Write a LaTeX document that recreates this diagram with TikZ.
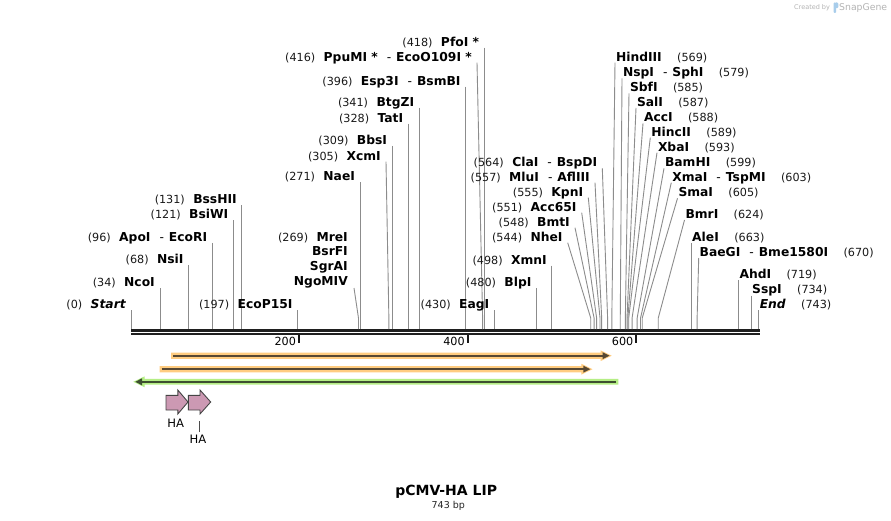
\documentclass[tikz,border=0pt]{standalone}
\usepackage{fontspec}
\setmainfont{DejaVu Sans}
\usetikzlibrary{calc}
\definecolor{cutgray}{HTML}{8C8C8C}
\definecolor{orH}{HTML}{FFCC80}
\definecolor{grH}{HTML}{B5EE85}
\definecolor{orD}{HTML}{574833}
\definecolor{grD}{HTML}{3D4F30}
\definecolor{haP}{HTML}{CC99B3}
\definecolor{haE}{HTML}{454545}
\definecolor{logoB}{HTML}{A8CDEB}
\definecolor{logoT}{HTML}{B4B4B4}
\newcommand\bpx[1]{(131.3+0.8445*(#1))}
\newcommand\sepx{\hspace{9pt}{\mdseries-}\hspace{5pt}}
% left-hand label: id, y, top x, bp, name
\newcommand\enzL[5]{%
  \node[ename, anchor=base east] (#1) at ({#3-5},{#2+4.5}) {#5};
  \node[enumb, anchor=base east] (#1n) at ([xshift=-8pt]#1.base west) {(#4)};
  \coordinate (#1t) at ({#3},{#2+6});
  \coordinate (#1k) at ({\bpx{#4}},318);
  \coordinate (#1b) at ({\bpx{#4}},329);
  \draw[cut] (#1t) -- (#1k) -- (#1b);}
% right-hand label: id, y, top x, bp, name
\newcommand\enzR[5]{%
  \node[ename, anchor=base west] (#1) at ({#3+0.8},{#2+4.5}) {#5};
  \node[enumb, anchor=base west] (#1n) at ([xshift=15pt]#1.base east) {(#4)};
  \coordinate (#1t) at ({#3},{#2+6});
  \coordinate (#1k) at ({\bpx{#4}},318);
  \coordinate (#1b) at ({\bpx{#4}},329);
  \draw[cut] (#1t) -- (#1k) -- (#1b);}
\begin{document}
\begin{tikzpicture}[x=1pt,y=-1pt,
  ename/.style={font=\fontsize{12.3}{14}\selectfont\bfseries, inner sep=0pt, text=black},
  enumb/.style={font=\fontsize{11.2}{13}\selectfont, inner sep=0pt, text=black!90},
  cut/.style={draw=cutgray, line width=0.9pt},
  seq/.style={draw=black!88, line width=2.7pt},
  tickm/.style={draw=black!90, line width=2pt},
  ticklab/.style={font=\fontsize{11.2}{13}\selectfont, inner sep=0pt, anchor=base east},
  hafeat/.style={fill=haP, draw=haE, line width=0.9pt, line join=miter},
  halab/.style={font=\fontsize{11.6}{13}\selectfont, inner sep=0pt, anchor=base}]
\fill[white] (0,0) rectangle (891,521);
\useasboundingbox (0,0) rectangle (891,521);

% sequence line
\coordinate (s0a) at (131,330.35);
\coordinate (s1a) at (760,330.35);
\coordinate (s0b) at (131,334);
\coordinate (s1b) at (760,334);
\draw[seq] (s0a) -- (s1a);
\draw[seq] (s0b) -- (s1b);

% ticks
\foreach \n/\x in {200/299, 400/467.7, 600/636.3}{
  \coordinate (tk\n a) at (\x,335);
  \coordinate (tk\n b) at (\x,342.7);
  \draw[tickm] (tk\n a) -- (tk\n b);
  \node[ticklab] (tl\n) at (\x-2.8,345.8) {\n};
}

% enzymes, labels on the left
\enzL{start}{304}{\bpx{0}}{0}{\textit{Start}}
\enzL{nco}{282}{\bpx{34}}{34}{NcoI}
\enzL{nsi}{259.5}{\bpx{68}}{68}{NsiI}
\enzL{apo}{237}{\bpx{96}}{96}{ApoI\sepx EcoRI}
\enzL{bsiw}{214.5}{\bpx{121}}{121}{BsiWI}
\enzL{bssh}{199.5}{\bpx{131}}{131}{BssHII}
\enzL{ecop}{304}{\bpx{197}}{197}{EcoP15I}
\enzL{nae}{176.5}{\bpx{271}}{271}{NaeI}
\enzL{xcm}{155.7}{386}{305}{XcmI}
\enzL{bbs}{140}{\bpx{309}}{309}{BbsI}
\enzL{tat}{117.7}{\bpx{328}}{328}{TatI}
\enzL{btgz}{101.7}{\bpx{341}}{341}{BtgZI}
\enzL{esp}{80.7}{\bpx{396}}{396}{Esp3I\sepx BsmBI}
\enzL{ppu}{56.7}{477}{416}{PpuMI *\sepx EcoO109I *}
\enzL{pfo}{41.7}{\bpx{418}}{418}{PfoI *}
\enzL{eag}{304}{\bpx{430}}{430}{EagI}
\enzL{blp}{282.3}{\bpx{480}}{480}{BlpI}
\enzL{xmn}{259.7}{\bpx{498}}{498}{XmnI}
\enzL{nhe}{236.7}{567.7}{544}{NheI}
\enzL{bmt}{221.7}{575}{548}{BmtI}
\enzL{accsf}{206.7}{581.7}{551}{Acc65I}
\enzL{kpn}{191.7}{588.3}{555}{KpnI}
\enzL{mlu}{176.7}{595}{557}{MluI\sepx AflIII}
\enzL{cla}{162.3}{602.3}{564}{ClaI\sepx BspDI}

% stacked group at 269
\node[ename, anchor=base east] (mre) at (348,241.5) {MreI};
\node[enumb, anchor=base east] (mren) at ([xshift=-8pt]mre.base west) {(269)};
\node[ename, anchor=base east] (bsrf) at (348,256) {BsrFI};
\node[ename, anchor=base east] (sgra) at (348,270.5) {SgrAI};
\node[ename, anchor=base east] (ngom) at (348,285.5) {NgoMIV};
\coordinate (ngomt) at (354,288);
\coordinate (ngomk) at ({\bpx{269}},318);
\coordinate (ngomb) at ({\bpx{269}},329);
\draw[cut] (ngomt) -- (ngomk) -- (ngomb);

% enzymes, labels on the right
\enzR{hind}{56.7}{615}{569}{HindIII}
\enzR{nsp}{72.3}{622}{579}{NspI\sepx SphI}
\enzR{sbf}{87.3}{629}{585}{SbfI}
\enzR{sal}{102}{636}{587}{SalI}
\enzR{acc}{117.3}{643}{588}{AccI}
\enzR{hinc}{131.7}{650.3}{589}{HincII}
\enzR{xba}{146.7}{657}{593}{XbaI}
\enzR{bam}{162.3}{664}{599}{BamHI}
\enzR{xma}{176.7}{671.3}{603}{XmaI\sepx TspMI}
\enzR{sma}{192.3}{677.5}{605}{SmaI}
\enzR{bmr}{214}{684.5}{624}{BmrI}
\enzR{ale}{237.3}{\bpx{663}}{663}{AleI}
\enzR{bae}{252}{698.7}{670}{BaeGI\sepx Bme1580I}
\enzR{ahd}{274.5}{\bpx{719}}{719}{AhdI}
\enzR{ssp}{289.5}{\bpx{734}}{734}{SspI}
\enzR{endm}{304}{\bpx{743}}{743}{\textit{End}}

% primers
\fill[orH] (171,352.5) -- (600.5,352.5) -- (600.5,350.3) -- (611.7,355.7) -- (600.5,361.1) -- (600.5,358.9) -- (171,358.9) -- cycle;
\draw[orD, line width=2pt] (173,355.7) -- (604,355.7);
\fill[orD] (602.5,352.2) -- (609.5,355.7) -- (602.5,359.2) -- cycle;

\fill[orH] (159.5,366) -- (581.3,366) -- (581.3,363.8) -- (592.5,369.2) -- (581.3,374.6) -- (581.3,372.4) -- (159.5,372.4) -- cycle;
\draw[orD, line width=2pt] (161.5,369.2) -- (585,369.2);
\fill[orD] (583.3,365.7) -- (590.3,369.2) -- (583.3,372.7) -- cycle;

\fill[grH] (618.3,378.9) -- (144.5,378.9) -- (144.5,376.4) -- (133.3,381.8) -- (144.5,387.2) -- (144.5,384.7) -- (618.3,384.7) -- cycle;
\draw[grD, line width=2pt] (616,381.8) -- (139.5,381.8);
\fill[grD] (142,378.3) -- (135.3,381.8) -- (142,385.3) -- cycle;

% HA features
\draw[hafeat] (166,395.3) -- (177.8,395.3) -- (177.8,390) -- (188,402) -- (177.8,414) -- (177.8,410) -- (166,410) -- cycle;
\draw[hafeat] (188.3,395.3) -- (200,395.3) -- (200,390) -- (210.7,402) -- (200,414) -- (200,410) -- (188.3,410) -- cycle;
\node[halab] (ha1) at (175.7,427.5) {HA};
\node[halab] (ha2) at (198,443.2) {HA};
\coordinate (ha2f) at (199.3,421);
\draw[draw=black!70, line width=0.7pt] ([xshift=1.3pt,yshift=2.5pt]ha2.north) -- (ha2f);

% title
\node[font=\fontsize{14}{16}\selectfont\bfseries, inner sep=0pt, anchor=base] (title) at (446.2,495.1) {pCMV-HA LIP};
\node[font=\fontsize{9.5}{11}\selectfont, inner sep=0pt, anchor=base, text=black!85] (bp) at (448.3,508.5) {743 bp};

% logo
\node[font=\fontsize{6.5}{7}\selectfont, text=logoT, inner sep=0pt, anchor=base west] (cby) at (794,10) {Created by};
\fill[logoB, rounded corners=1pt] (833.6,2.5) rectangle (836.2,13);
\fill[logoB, rounded corners=1.2pt] (835,2.5) rectangle (838.3,8.2);
\node[font=\fontsize{9.3}{10}\selectfont, text=logoT, inner sep=0pt, anchor=base west] (sg) at (839,11) {SnapGene};
\end{tikzpicture}
\end{document}
